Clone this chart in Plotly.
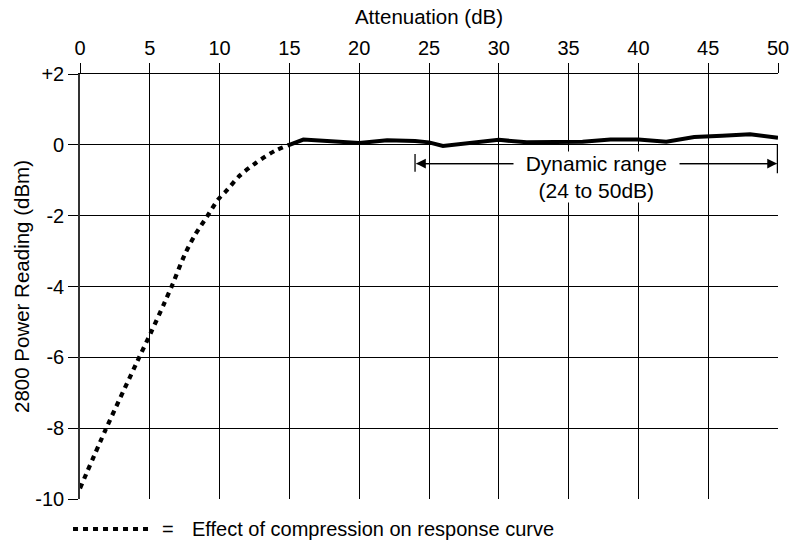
import plotly.graph_objects as go

# Compression region (dotted)
comp_x = [0, 1.85, 4.12, 5.08, 6.04, 6.64, 7.48, 8.2, 9.11, 9.88, 10.48, 11.44, 12.64, 13.96, 15]
comp_y = [-9.7, -8.03, -6.1, -5.3, -4.47, -3.93, -3.12, -2.57, -2.02, -1.55, -1.3, -0.87, -0.5, -0.17, 0]

# Measured response (solid)
resp_x = [15, 16, 20, 22, 24, 25, 26, 30, 32, 36, 38, 40, 42, 44, 46, 48, 50]
resp_y = [0, 0.15, 0.05, 0.13, 0.11, 0.07, -0.03, 0.14, 0.07, 0.09, 0.15, 0.15, 0.09, 0.22, 0.26, 0.3, 0.2]

x_ticks = [0, 5, 10, 15, 20, 25, 30, 35, 40, 45, 50]
y_ticks = [2, 0, -2, -4, -6, -8, -10]
y_ticktext = ["+2", "0", "-2", "-4", "-6", "-8", "-10"]

range_start, range_end, range_y = 24, 50, -0.53

FONT = "Liberation Sans, Arial, Helvetica, sans-serif"
FS = 20
ANN_FS = 21
TITLE_FS = 20.5

fig = go.Figure()
fig.add_trace(go.Scatter(x=comp_x, y=comp_y, mode="lines",
                         line=dict(color="black", width=4.2, dash="5px,5px", shape="spline", smoothing=0.8),
                         showlegend=False, hoverinfo="skip"))
fig.add_trace(go.Scatter(x=resp_x, y=resp_y, mode="lines",
                         line=dict(color="black", width=4),
                         showlegend=False, hoverinfo="skip"))

# dynamic range arrow (double headed)
for a, b in [(range_start, range_end), (range_end, range_start)]:
    fig.add_annotation(x=a, y=range_y, ax=b, ay=range_y,
                       xref="x", yref="y", axref="x", ayref="y",
                       text="", showarrow=True, arrowhead=2, arrowsize=1.5,
                       arrowwidth=1.3, arrowcolor="black", standoff=1)
fig.add_shape(type="line", x0=range_start, x1=range_start, y0=-0.26, y1=-0.76,
              xref="x", yref="y", line=dict(color="black", width=1.3))
fig.add_shape(type="line", x0=range_end, x1=range_end, y0=0.0, y1=-0.8,
              xref="x", yref="y", line=dict(color="black", width=2.5))
fig.add_annotation(x=(range_start + range_end) / 2, y=range_y,
                   text="&nbsp;&nbsp;Dynamic range&nbsp;&nbsp;<br>(24 to 50dB)", showarrow=False,
                   xref="x", yref="y", yanchor="top", yshift=13, bgcolor="white",
                   font=dict(family=FONT, size=ANN_FS, color="black"), borderpad=0)

# note at bottom (dotted sample + text)
fig.add_shape(type="line", xref="paper", yref="paper", x0=-0.01, x1=0.103,
              y0=-0.0706, y1=-0.0706, line=dict(color="black", width=4.2, dash="5px,5px"))
fig.add_annotation(xref="paper", yref="paper", x=0.114, y=-0.0706, xanchor="left",
                   yanchor="middle", showarrow=False, text="=",
                   font=dict(family=FONT, size=FS, color="black"))
fig.add_annotation(xref="paper", yref="paper", x=0.157, y=-0.0706, xanchor="left",
                   yanchor="middle", showarrow=False,
                   text="Effect of compression on response curve",
                   font=dict(family=FONT, size=FS, color="black"))

fig.update_layout(
    width=793, height=542,
    margin=dict(l=80, r=15, t=74, b=43),
    plot_bgcolor="white", paper_bgcolor="white",
    font=dict(family=FONT, size=FS, color="black"),
    xaxis=dict(range=[0, 50], side="top", tickvals=x_ticks, automargin=False,
               showgrid=True, gridcolor="black", gridwidth=1,
               ticks="outside", ticklen=10, tickcolor="black",
               showline=True, linecolor="black", linewidth=1,
               zeroline=False, tickfont=dict(size=FS),
               title=dict(text="Attenuation (dB)", standoff=6,
                          font=dict(family=FONT, size=TITLE_FS, color="black"))),
    yaxis=dict(range=[-10, 2], tickvals=y_ticks, ticktext=y_ticktext, automargin=False,
               showgrid=True, gridcolor="black", gridwidth=1,
               ticks="outside", ticklen=10, tickcolor="black",
               showline=True, linecolor="#333", linewidth=1.6,
               zeroline=False, tickfont=dict(size=FS),
               title=dict(text="2800 Power Reading (dBm)", standoff=0,
                          font=dict(family=FONT, size=TITLE_FS, color="black"))),
)

fig.write_html("out.html", config={"displayModeBar": False},
               post_script="document.body.style.margin='0';document.body.style.overflow='hidden';")
